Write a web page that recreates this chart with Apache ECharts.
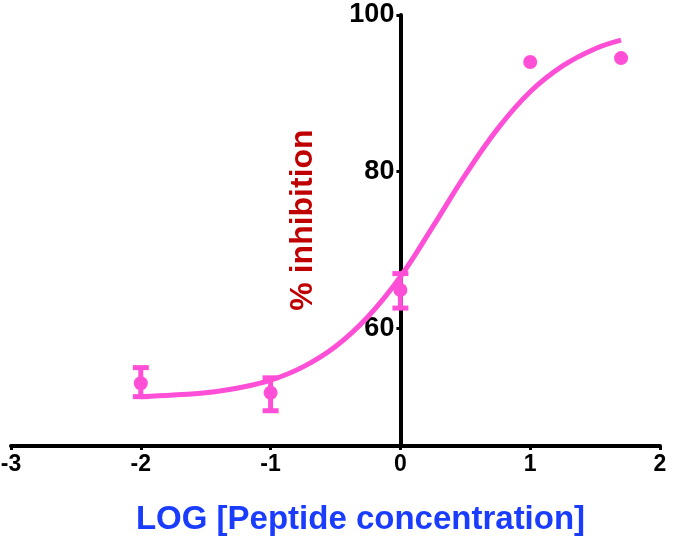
<!DOCTYPE html>
<html>
<head>
<meta charset="utf-8">
<script src="https://cdn.jsdelivr.net/npm/echarts@6/dist/echarts.min.js"></script>
<style>
html,body{margin:0;padding:0;background:#fff;}
#chart{width:676px;height:547px;}
</style>
</head>
<body>
<div id="chart"></div>
<script>
// Data
const pointX = [-2, -1, 0, 1, 1.7];
const pointY = [53.0, 51.8, 64.9, 94.0, 94.5];
const errLow = [51.3, 49.5, 62.6, 94.0, 94.5];
const errHigh = [55.0, 53.7, 67.0, 94.0, 94.5];
// fitted curve
const curveX = [-2, -1.75, -1.5, -1.25, -1, -0.75, -0.5, -0.25, 0, 0.25, 0.5, 0.75, 1, 1.25, 1.5, 1.7];
const curveY = [51.3, 51.5, 51.8, 52.4, 53.4, 55.1, 57.7, 61.5, 66.6, 73.0, 79.6, 85.5, 90.2, 93.5, 95.7, 96.8];
const xTicks = [-3, -2, -1, 0, 1, 2];
const yTicks = [60, 80, 100];

const PINK = '#ff4fd6';
const FONT = "'Liberation Sans', Arial, sans-serif";

const chart = echarts.init(document.getElementById('chart'));
const option = {
  animation: false,
  backgroundColor: '#fff',
  grid: { left: 11, right: 16, top: 15, bottom: 101, containLabel: false, outerBoundsMode: 'none' },
  xAxis: {
    type: 'value', min: xTicks[0], max: xTicks[xTicks.length - 1], interval: 1,
    splitLine: { show: false },
    axisLine: { onZero: false, lineStyle: { color: '#000', width: 4 } },
    axisTick: { show: true, length: 4, lineStyle: { color: '#000', width: 3 } },
    axisLabel: { color: '#000', fontFamily: FONT, fontWeight: 'bold', fontSize: 23, margin: 7 },
    name: 'LOG [Peptide concentration]',
    nameLocation: 'middle', nameGap: 57,
    nameTextStyle: { color: '#1a3cff', fontFamily: FONT, fontWeight: 'bold', fontSize: 33, padding: [0, 0, 0, 50] }
  },
  yAxis: {
    type: 'value', min: 45, max: 100, offset: 0,
    splitLine: { show: false },
    axisLine: { onZero: false, lineStyle: { color: '#000', width: 4 } },
    axisTick: { show: true, length: 4, customValues: yTicks, lineStyle: { color: '#000', width: 3 } },
    axisLabel: { color: '#000', fontFamily: FONT, fontWeight: 'bold', fontSize: 27, margin: 6, customValues: yTicks }
  },
  graphic: [{
    type: 'text', x: 303, y: 220, rotation: Math.PI / 2,
    style: { text: '% inhibition', fill: '#c00000', font: "bold 32px 'Liberation Sans', Arial, sans-serif", align: 'center', verticalAlign: 'middle' }
  }],
  series: [
    {
      type: 'line', data: curveX.map((x, i) => [x, curveY[i]]), smooth: 0.4,
      showSymbol: false, lineStyle: { color: PINK, width: 5 }, z: 2
    },
    {
      type: 'custom',
      data: pointX.map((x, i) => [x, errLow[i], errHigh[i]]),
      renderItem: function (params, api) {
        const lo = api.coord([api.value(0), api.value(1)]);
        const hi = api.coord([api.value(0), api.value(2)]);
        if (Math.abs(lo[1] - hi[1]) < 1) return null;
        const w = 8;
        const st = { stroke: PINK, lineWidth: 5 };
        return {
          type: 'group', children: [
            { type: 'line', shape: { x1: lo[0], y1: lo[1], x2: hi[0], y2: hi[1] }, style: st },
            { type: 'line', shape: { x1: lo[0] - w, y1: lo[1], x2: lo[0] + w, y2: lo[1] }, style: st },
            { type: 'line', shape: { x1: hi[0] - w, y1: hi[1], x2: hi[0] + w, y2: hi[1] }, style: st }
          ]
        };
      },
      z: 3
    },
    {
      type: 'scatter', data: pointX.map((x, i) => [x, pointY[i]]),
      symbol: 'circle', symbolSize: 14, itemStyle: { color: PINK, opacity: 1 }, z: 4
    }
  ]
};
chart.setOption(option);
// place the y axis at x = 0 using the library's own x scale
const x0 = chart.convertToPixel({ xAxisIndex: 0 }, 0);
const xMinPx = chart.convertToPixel({ xAxisIndex: 0 }, xTicks[0]);
chart.setOption({ yAxis: { offset: -(x0 - xMinPx) } });
</script>
</body>
</html>
